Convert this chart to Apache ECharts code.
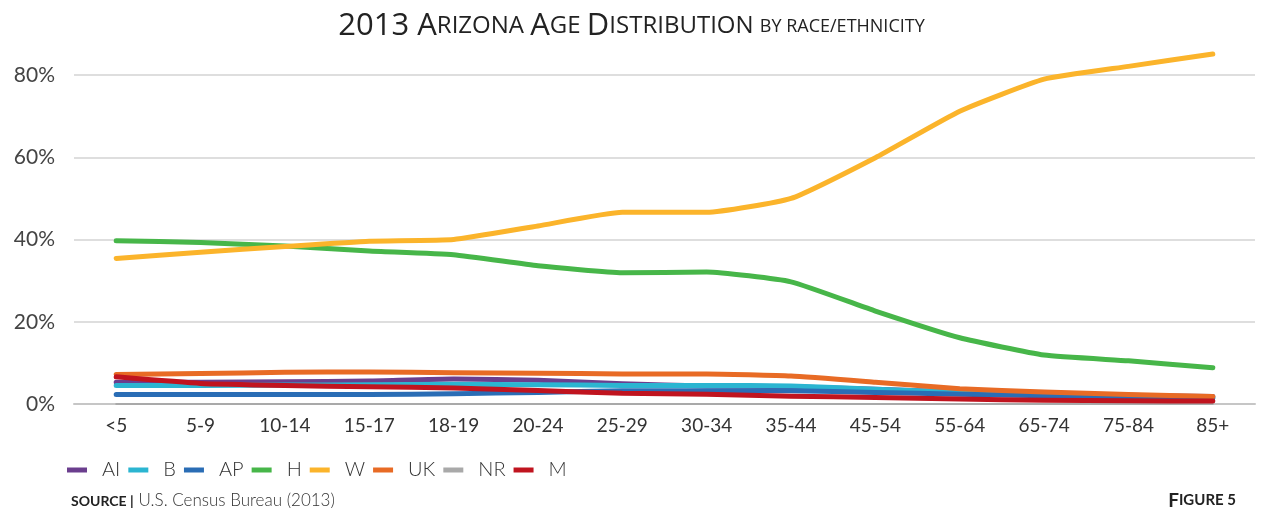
<!DOCTYPE html>
<html>
<head>
<meta charset="utf-8">
<script src="https://cdn.jsdelivr.net/npm/echarts@6/dist/echarts.min.js"></script>
<style>
  html, body { margin: 0; padding: 0; background: #fff; }
  #main { width: 1263px; height: 508px; }
</style>
</head>
<body>
<div id="main"></div>
<script>
// age groups on the x axis
var ageGroups = ['<5','5-9','10-14','15-17','18-19','20-24','25-29','30-34','35-44','45-54','55-64','65-74','75-84','85+'];

// share of each age group by race/ethnicity (%)
var AI = [5.3, 5.3, 5.4, 5.6, 6.1, 5.8, 4.9, 4.4, 4.2, 3.6, 2.9, 2.4, 2.1, 1.8];
var B  = [4.5, 4.5, 4.6, 4.7, 4.8, 4.7, 4.5, 4.5, 4.4, 3.6, 2.9, 2.4, 2.0, 1.5];
var AP = [2.3, 2.3, 2.3, 2.3, 2.5, 2.8, 3.2, 3.2, 3.2, 2.8, 2.4, 2.0, 1.7, 1.4];
var H  = [39.7, 39.3, 38.4, 37.2, 36.3, 33.6, 31.9, 32.1, 29.7, 22.6, 16.1, 11.9, 10.5, 8.8];
var W  = [35.4, 36.9, 38.3, 39.6, 40.0, 43.3, 46.6, 46.6, 50.0, 59.9, 71.2, 79.0, 82.1, 85.1];
var UK = [7.2, 7.4, 7.7, 7.8, 7.6, 7.5, 7.3, 7.3, 6.8, 5.3, 3.7, 2.9, 2.3, 1.8];
var NR = [0, 0, 0, 0, 0, 0, 0, 0, 0, 0, 0, 0, 0, 0];
var M  = [6.6, 5.0, 4.5, 4.2, 3.9, 3.3, 2.6, 2.4, 1.9, 1.6, 1.2, 0.9, 0.8, 0.7];

var yTicks = [0, 20, 40, 60, 80];

var names  = ['AI','B','AP','H','W','UK','NR','M'];
var values = [AI, B, AP, H, W, UK, NR, M];
var colors = ['#6b3e8e','#2bb5d1','#2a6db5','#47b649','#fbb42b','#e86b25','#a9a9a9','#c0141f'];

var font = 'Lato, "Open Sans", sans-serif';
var titleFont = '"Open Sans", Lato, sans-serif';

var myChart = echarts.init(document.getElementById('main'));

var series = names.map(function (n, i) {
    return {
        name: n,
        type: 'line',
        data: values[i],
        showSymbol: false,
        symbol: 'none',
        smooth: 0.15,
        clip: false,
        z: n === 'NR' ? 1 : 2,
        lineStyle: { width: n === 'NR' ? 2 : 5, color: colors[i], cap: 'round', join: 'round' },
        itemStyle: { color: colors[i] }
    };
});

var option = {
    backgroundColor: '#fff',
    animation: false,
    color: colors,
    title: [
        {
            left: 'center',
            top: 6,
            text: '{n|2013 }{b|A}{s|RIZONA }{b|A}{s|GE }{b|D}{s|ISTRIBUTION }{t|BY RACE/ETHNICITY}',
            textStyle: {
                rich: {
                    n: { fontFamily: titleFont, fontSize: 31, fontWeight: 'normal', color: '#222' },
                    b: { fontFamily: titleFont, fontSize: 31, fontWeight: 'normal', color: '#222' },
                    s: { fontFamily: titleFont, fontSize: 24, fontWeight: 'normal', color: '#222' },
                    t: { fontFamily: titleFont, fontSize: 18, fontWeight: 'normal', color: '#222' }
                }
            }
        },
        {
            left: 66,
            top: 487,
            text: '{b|SOURCE |} {r|U.S. Census Bureau (2013)}',
            textStyle: {
                rich: {
                    b: { fontFamily: font, fontSize: 14, fontWeight: 'bold', color: '#222' },
                    r: { fontFamily: font, fontSize: 17, fontWeight: 300, color: '#333' }
                }
            }
        },
        {
            right: 22,
            top: 486,
            text: '{b|F}{s|IGURE 5}',
            textStyle: {
                rich: {
                    b: { fontFamily: font, fontSize: 19, fontWeight: 'bold', color: '#222' },
                    s: { fontFamily: font, fontSize: 15, fontWeight: 'bold', color: '#222' }
                }
            }
        }
    ],
    legend: {
        data: names,
        left: 62,
        top: 455,
        icon: 'rect',
        itemWidth: 20,
        itemHeight: 5,
        itemGap: 8,
        textStyle: { fontFamily: font, fontSize: 20, fontWeight: 300, color: '#333', padding: [0, 0, 0, 10] }
    },
    grid: {
        left: 74,
        right: 8,
        top: 75,
        bottom: 104
    },
    xAxis: {
        type: 'category',
        data: ageGroups,
        boundaryGap: true,
        axisTick: { show: false },
        axisLine: { lineStyle: { color: '#c6c6c6', width: 2 } },
        axisLabel: { fontFamily: font, fontSize: 19, color: '#333', margin: 12 }
    },
    yAxis: {
        type: 'value',
        min: yTicks[0],
        max: yTicks[yTicks.length - 1],
        interval: 20,
        axisLine: { show: false },
        axisTick: { show: false },
        axisLabel: {
            fontFamily: font, fontSize: 21, color: '#444', margin: 19,
            formatter: function (v) { return v + '%'; }
        },
        splitLine: { lineStyle: { color: '#dedede', width: 2 } }
    },
    series: series
};

myChart.setOption(option);
</script>
</body>
</html>
